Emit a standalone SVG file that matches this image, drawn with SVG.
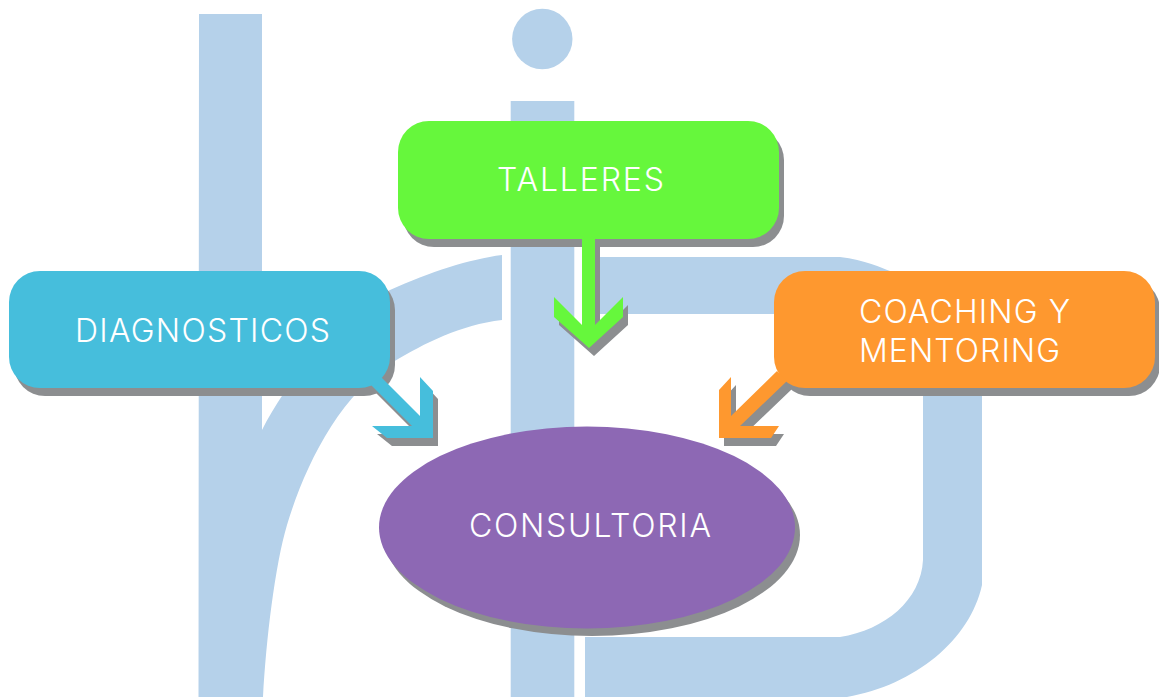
<svg xmlns="http://www.w3.org/2000/svg" width="1159" height="697" viewBox="0 0 1159 697">
<style>
.bg{fill:#b5d1ea}
.sh{fill:#8c8e90}
.t{font-family:"Inter","Liberation Sans",sans-serif;font-weight:300;font-size:32px;fill:#fff}
</style>
<rect width="1159" height="697" fill="#fff"/>
<g id="background">
<path class="bg" d="M198.500,697 L199,14 L262,14 L262,430 C285,385 335,318 390,290 C430,272 470,259 502,255 L502,320 C460,325 425,343 393,362 C340,395 305,465 287,525 C275,565 266,640 263,697 Z"/>
<circle class="bg" cx="542.300" cy="39" r="30.200"/>
<rect class="bg" x="510.700" y="101" width="63.600" height="596"/>
<path class="bg" d="M584,257 L840,257 C865,260 882,268 890,271 C940,290 982,340 982,396 L982,585 C970,640 915,685 847,697 L585,697 L585,637 L840,637 C885,630 921,600 923,560 L923,396 C923,350 880,314 840,314 L584,314 Z"/>
</g>
<g id="node-diagnosticos">
<rect class="sh" x="14" y="279" width="381" height="117" rx="31"/>
<rect x="9" y="271" width="381" height="117" rx="31" fill="#46bedc"/>
<text class="t" x="75" y="342" textLength="255">DIAGNOSTICOS</text>
</g>
<g id="node-talleres">
<rect class="sh" x="403" y="129" width="381" height="118" rx="31"/>
<rect x="398" y="121" width="381" height="118" rx="31" fill="#66f73c"/>
<text class="t" x="497" y="191" textLength="167">TALLERES</text>
</g>
<g id="node-coaching">
<rect class="sh" x="779" y="279" width="381" height="117" rx="31"/>
<rect x="774" y="271" width="381" height="117" rx="31" fill="#fe982f"/>
<text class="t" x="859" y="323" textLength="211">COACHING Y</text>
<text class="t" x="859" y="362" textLength="201">MENTORING</text>
</g>
<g id="node-consultoria">
<ellipse class="sh" cx="592" cy="535" rx="208" ry="101"/>
<ellipse cx="587" cy="527.500" rx="208" ry="101" fill="#8d68b4"/>
<text class="t" x="469" y="537" textLength="242">CONSULTORIA</text>
</g>
<g id="connectors">
<polygon class="sh" transform="translate(5 8)" points="381,377 420,416 420,377 433,391 433,438 387,438 372,426 412,426 371,385"/>
<polygon fill="#46bedc" points="381,377 420,416 420,377 433,391 433,438 387,438 372,426 412,426 371,385"/>
<polygon class="sh" transform="translate(5 8)" points="582,239 595,239 595,325 623,297 623,317 589,348 554,317 554,297 582,325"/>
<polygon fill="#66f73c" points="582,239 595,239 595,325 623,297 623,317 589,348 554,317 554,297 582,325"/>
<polygon class="sh" transform="translate(5 8)" points="777,371 731,416 731,377 719,390 719,438 771,438 779,426 740,426 787,381"/>
<polygon fill="#fe982f" points="777,371 731,416 731,377 719,390 719,438 771,438 779,426 740,426 787,381"/>
</g>
</svg>
